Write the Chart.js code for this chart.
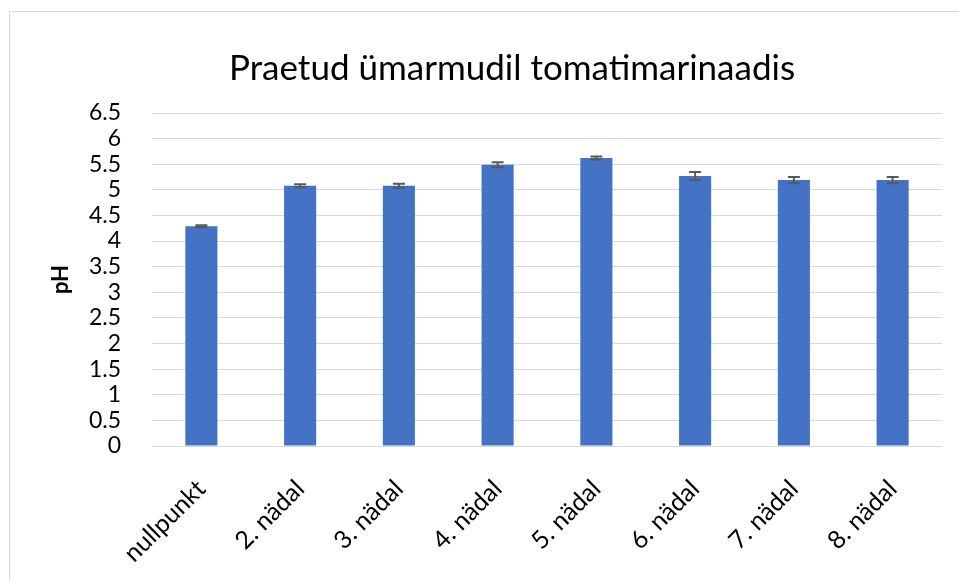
<!DOCTYPE html>
<html>
<head>
<meta charset="utf-8">
<script src="https://cdn.jsdelivr.net/npm/chart.js@4.4.0/dist/chart.umd.min.js"></script>
<style>
  html, body { margin: 0; padding: 0; background: #fff; overflow: hidden; }
  body { width: 959px; height: 580px; position: relative; }
  #frame {
    position: absolute; left: 9px; top: 11px; width: 1020px; height: 569px;
    border-left: 1px solid #d9d9d9; border-top: 1px solid #d9d9d9;
  }
  #chart { display: block; }
</style>
</head>
<body>
<div id="frame"><canvas id="chart" width="1020" height="569"></canvas></div>
<script>
const categories = ['nullpunkt', '2. nädal', '3. nädal', '4. nädal', '5. nädal', '6. nädal', '7. nädal', '8. nädal'];
const phValues = [4.29, 5.08, 5.08, 5.49, 5.62, 5.27, 5.19, 5.19];
const phErrors = [0.02, 0.03, 0.04, 0.05, 0.03, 0.08, 0.06, 0.06];
const yTicks = [0, 0.5, 1, 1.5, 2, 2.5, 3, 3.5, 4, 4.5, 5, 5.5, 6, 6.5];

const FONT = 'Lato, "Open Sans", sans-serif';

// simple error bar drawer, uses the chart's own scales
const errorBars = {
  id: 'errorBars',
  afterDatasetsDraw(chart) {
    const ctx = chart.ctx;
    const yScale = chart.scales.y;
    const meta = chart.getDatasetMeta(0);
    ctx.save();
    ctx.strokeStyle = '#595959';
    ctx.lineWidth = 2;
    meta.data.forEach((bar, i) => {
      const top = yScale.getPixelForValue(phValues[i] + phErrors[i]);
      const bottom = yScale.getPixelForValue(phValues[i] - phErrors[i]);
      const half = 6;
      ctx.beginPath();
      ctx.moveTo(bar.x, top);
      ctx.lineTo(bar.x, bottom);
      ctx.moveTo(bar.x - half, top);
      ctx.lineTo(bar.x + half, top);
      ctx.moveTo(bar.x - half, bottom);
      ctx.lineTo(bar.x + half, bottom);
      ctx.stroke();
    });
    ctx.restore();
  }
};

// left padding is big so the chart title sits roughly where Excel put it,
// the "pH" title gets pulled back left with a negative padding
new Chart(document.getElementById('chart'), {
  type: 'bar',
  data: {
    labels: categories,
    datasets: [{
      data: phValues,
      backgroundColor: '#4472c4',
      borderWidth: 0,
      barPercentage: 0.325,
      categoryPercentage: 1
    }]
  },
  options: {
    responsive: false,
    animation: false,
    layout: { padding: { left: 72, right: 88, top: 0, bottom: 0 } },
    plugins: {
      legend: { display: false },
      tooltip: { enabled: false },
      title: {
        display: true,
        text: 'Praetud ümarmudil tomatimarinaadis',
        color: '#000',
        font: { family: FONT, size: 35, weight: 'normal' },
        padding: { top: 36, bottom: 23 }
      }
    },
    scales: {
      x: {
        grid: { display: false },
        border: { display: false },
        ticks: {
          color: '#000',
          font: { family: FONT, size: 25 },
          maxRotation: 45,
          minRotation: 45,
          autoSkip: false,
          padding: 20
        },
        afterFit: s => { s.height = 135; }
      },
      y: {
        min: 0,
        max: 6.5,
        afterBuildTicks: s => { s.ticks = yTicks.map(v => ({ value: v })); },
        grid: { color: '#d9d9d9', lineWidth: 1, drawTicks: false },
        border: { display: false },
        ticks: {
          color: '#000',
          font: { family: FONT, size: 23 },
          autoSkip: false,
          padding: 31,
          callback: v => String(v)
        },
        title: {
          display: true,
          text: 'pH',
          color: '#000',
          font: { family: FONT, size: 22, weight: 'bold' },
          padding: { top: -34, bottom: 0 }
        },
        afterFit: s => { s.width = 70; }
      }
    }
  },
  plugins: [errorBars]
});
</script>
</body>
</html>
